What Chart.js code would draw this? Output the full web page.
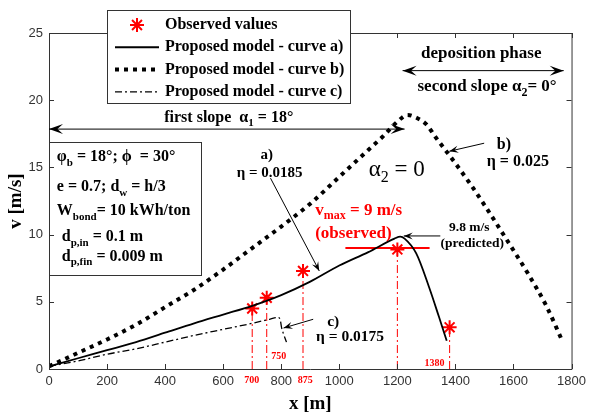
<!DOCTYPE html>
<html>
<head>
<meta charset="utf-8">
<script src="https://cdn.jsdelivr.net/npm/chart.js@4.4.1/dist/chart.umd.min.js"></script>
<style>
  html, body { margin: 0; padding: 0; background: #fff; }
  #wrap { width: 591px; height: 416px; }
</style>
</head>
<body>
<div id="wrap"><canvas id="myChart" width="591" height="416"></canvas></div>
<script>
// curve a) - proposed model, eta = 0.0185
var xA = [0, 100, 200, 300, 400, 500, 600, 700, 800, 900, 1000, 1100, 1190, 1210, 1225, 1265, 1309, 1343, 1370];
var yA = [0.2, 0.8, 1.4, 2.0, 2.7, 3.4, 4.05, 4.7, 5.5, 6.5, 7.7, 8.7, 9.7, 9.85, 9.7, 8.6, 6.1, 3.9, 2.1];
// curve b) - proposed model, eta = 0.025
var xB = [0, 100, 200, 300, 400, 500, 600, 700, 800, 900, 1000, 1100, 1150, 1200, 1235, 1265, 1300, 1330, 1400, 1450, 1500, 1586, 1650, 1713, 1770];
var yB = [0.2, 1.2, 2.2, 3.3, 4.6, 5.9, 7.4, 9.0, 10.6, 12.3, 14.3, 16.3, 17.3, 18.4, 18.9, 18.7, 18.2, 17.3, 15.3, 13.8, 12.2, 9.3, 7.1, 4.7, 2.0];
// curve c) - proposed model, eta = 0.0175
var xC = [0, 100, 200, 300, 400, 500, 600, 700, 760, 790, 797, 801, 808, 818];
var yC = [0.2, 0.6, 1.1, 1.5, 2.0, 2.5, 2.95, 3.4, 3.7, 3.85, 3.6, 3.1, 2.6, 2.0];
// observed values
var obsX = [700, 750, 875, 1200, 1380];
var obsY = [4.5, 5.3, 7.3, 8.9, 3.1];
// observed v max line
var vmaxX = [1021, 1311];
var vmaxY = [9.0, 9.0];
// axes
var xTicks = [0, 200, 400, 600, 800, 1000, 1200, 1400, 1600, 1800];
var yTicks = [0, 5, 10, 15, 20, 25];

var SERIF = '"Liberation Serif", "Times New Roman", serif';
var SANS = '"Liberation Sans", Arial, sans-serif';

function pts(xs, ys) {
    return xs.map(function(x, i) { return {x: x, y: ys[i]}; });
}

// rich text: parts = [[text, isSub], ...]
function rich(ctx, parts, x, y, align, size, color, weight) {
    weight = weight || 'bold';
    var w = 0;
    parts.forEach(function(p) {
        ctx.font = weight + ' ' + (p[1] ? Math.round(size * 0.7) : size) + 'px ' + SERIF;
        w += ctx.measureText(p[0]).width;
    });
    var cx = align === 'center' ? x - w / 2 : x;
    ctx.fillStyle = color;
    ctx.textAlign = 'left';
    ctx.textBaseline = 'middle';
    parts.forEach(function(p) {
        var s = p[1] ? Math.round(size * 0.7) : size;
        ctx.font = weight + ' ' + s + 'px ' + SERIF;
        ctx.fillText(p[0], cx, y + (p[1] ? size * 0.35 : 0));
        cx += ctx.measureText(p[0]).width;
    });
}

function head(ctx, x1, y1, x2, y2, len, half) {
    var a = Math.atan2(y2 - y1, x2 - x1);
    var c = Math.cos(a), s = Math.sin(a);
    ctx.beginPath();
    ctx.moveTo(x2, y2);
    ctx.lineTo(x2 - len * c + half * s, y2 - len * s - half * c);
    ctx.lineTo(x2 - len * 0.6 * c, y2 - len * 0.6 * s);
    ctx.lineTo(x2 - len * c - half * s, y2 - len * s + half * c);
    ctx.closePath();
    ctx.fill();
}

function arrow(ctx, x1, y1, x2, y2, both, len, half) {
    ctx.strokeStyle = '#000';
    ctx.fillStyle = '#000';
    ctx.lineWidth = 1;
    ctx.beginPath();
    ctx.moveTo(x1, y1);
    ctx.lineTo(x2, y2);
    ctx.stroke();
    head(ctx, x1, y1, x2, y2, len, half);
    if (both) head(ctx, x2, y2, x1, y1, len, half);
}

// annotations given in data units
var notes = [
    {x: 397, y: 18.7, align: 'left', size: 16, parts: [['first slope  \u03b1', 0], ['1', 1], [' = 18\u00b0', 0]]},
    {x: 1489, y: 23.5, align: 'center', size: 17, parts: [['deposition phase', 0]]},
    {x: 1509, y: 21.0, align: 'center', size: 17, parts: [['second slope \u03b1', 0], ['2', 1], ['= 0\u00b0', 0]]},
    {x: 27, y: 15.76, align: 'left', size: 16, parts: [['\u03c6', 0], ['b', 1], [' = 18\u00b0; \u03d5  = 30\u00b0', 0]]},
    {x: 27, y: 13.53, align: 'left', size: 16, parts: [['e = 0.7; d', 0], ['w', 1], [' = h/3', 0]]},
    {x: 27, y: 11.75, align: 'left', size: 16, parts: [['W', 0], ['bond', 1], ['= 10 kWh/ton', 0]]},
    {x: 44, y: 9.81, align: 'left', size: 16, parts: [['d', 0], ['p,in', 1], [' = 0.1 m', 0]]},
    {x: 44, y: 8.33, align: 'left', size: 16, parts: [['d', 0], ['p,fin', 1], [' = 0.009 m', 0]]},
    {x: 750, y: 15.9, align: 'center', size: 15, parts: [['a)', 0]]},
    {x: 760, y: 14.57, align: 'center', size: 15, parts: [['\u03b7 = 0.0185', 0]]},
    {x: 1198, y: 14.8, align: 'center', size: 23, weight: 'normal', parts: [['\u03b1', 0], ['2', 1], [' = 0', 0]]},
    {x: 1567, y: 16.65, align: 'center', size: 16, parts: [['b)', 0]]},
    {x: 1615, y: 15.4, align: 'center', size: 16, parts: [['\u03b7 = 0.025', 0]]},
    {x: 917, y: 11.8, align: 'left', size: 17, color: '#ff0000', parts: [['v', 0], ['max', 1], [' = 9 m/s', 0]]},
    {x: 917, y: 10.1, align: 'left', size: 17, color: '#ff0000', parts: [['(observed)', 0]]},
    {x: 1448, y: 10.5, align: 'center', size: 13.5, parts: [['9.8 m/s', 0]]},
    {x: 1458, y: 9.37, align: 'center', size: 13.5, parts: [['(predicted)', 0]]},
    {x: 979, y: 3.5, align: 'center', size: 15.5, parts: [['c)', 0]]},
    {x: 1037, y: 2.38, align: 'center', size: 15.5, parts: [['\u03b7 = 0.0175', 0]]},
    {x: 698, y: -0.82, align: 'center', size: 10, color: '#ff0000', parts: [['700', 0]]},
    {x: 883, y: -0.82, align: 'center', size: 10, color: '#ff0000', parts: [['875', 0]]},
    {x: 791, y: 0.9, align: 'center', size: 10, color: '#ff0000', parts: [['750', 0]]},
    {x: 1328, y: 0.45, align: 'center', size: 10, color: '#ff0000', parts: [['1380', 0]]}
];
var arrows = [
    {x1: 0, y1: 17.85, x2: 1225, y2: 17.85, both: true, len: 14, half: 5},
    {x1: 1218, y1: 22.2, x2: 1773, y2: 22.2, both: true, len: 14, half: 5},
    {x1: 763, y1: 14.2, x2: 931, y2: 7.3, len: 9, half: 3.5},
    {x1: 1499, y1: 16.8, x2: 1379, y2: 16.2, len: 9, half: 3.5},
    {x1: 1348, y1: 9.9, x2: 1222, y2: 9.9, len: 9, half: 3.5},
    {x1: 910, y1: 3.7, x2: 808, y2: 3.05, len: 9, half: 3.5}
];
var paramBox = {x1: 0, y1: 16.9, x2: 524, y2: 7.0};

var legendItems = [
    {label: 'Observed values', kind: 'star'},
    {label: 'Proposed model - curve a)', kind: 'solid'},
    {label: 'Proposed model - curve b)', kind: 'dot'},
    {label: 'Proposed model - curve c)', kind: 'dashdot'}
];

function starMark(ctx, x, y, r) {
    ctx.beginPath();
    for (var k = 0; k < 4; k++) {
        var a = k * Math.PI / 4;
        ctx.moveTo(x - r * Math.cos(a), y - r * Math.sin(a));
        ctx.lineTo(x + r * Math.cos(a), y + r * Math.sin(a));
    }
    ctx.stroke();
}

var decorPlugin = {
    id: 'decor',
    beforeDatasetsDraw: function(chart) {
        var ctx = chart.ctx, xs = chart.scales.x, ys = chart.scales.y;
        // parameter box
        var bx1 = xs.getPixelForValue(paramBox.x1), bx2 = xs.getPixelForValue(paramBox.x2);
        var by1 = ys.getPixelForValue(paramBox.y1), by2 = ys.getPixelForValue(paramBox.y2);
        ctx.save();
        ctx.strokeStyle = '#333';
        ctx.lineWidth = 1;
        ctx.strokeRect(Math.round(bx1) + 0.5, Math.round(by1) + 0.5, Math.round(bx2 - bx1), Math.round(by2 - by1));
        ctx.restore();
    },
    afterDatasetsDraw: function(chart) {
        var ctx = chart.ctx, xs = chart.scales.x, ys = chart.scales.y, ca = chart.chartArea;
        ctx.save();
        // frame + inward ticks
        ctx.strokeStyle = '#333';
        ctx.lineWidth = 1;
        ctx.beginPath();
        ctx.moveTo(ca.left + 0.5, ca.top + 0.5);
        ctx.lineTo(ca.right + 0.5, ca.top + 0.5);
        ctx.lineTo(ca.right + 0.5, ca.bottom + 0.5);
        xs.ticks.forEach(function(t) {
            var px = Math.round(xs.getPixelForValue(t.value)) + 0.5;
            ctx.moveTo(px, ca.bottom);
            ctx.lineTo(px, ca.bottom - 5);
            ctx.moveTo(px, ca.top);
            ctx.lineTo(px, ca.top + 5);
        });
        ys.ticks.forEach(function(t) {
            var py = Math.round(ys.getPixelForValue(t.value)) + 0.5;
            ctx.moveTo(ca.left, py);
            ctx.lineTo(ca.left + 5, py);
            ctx.moveTo(ca.right, py);
            ctx.lineTo(ca.right - 5, py);
        });
        ctx.stroke();

        arrows.forEach(function(a) {
            arrow(ctx, xs.getPixelForValue(a.x1), ys.getPixelForValue(a.y1),
                xs.getPixelForValue(a.x2), ys.getPixelForValue(a.y2), a.both, a.len, a.half);
        });
        notes.forEach(function(n) {
            rich(ctx, n.parts, xs.getPixelForValue(n.x), ys.getPixelForValue(n.y), n.align, n.size, n.color || '#000', n.weight);
        });

        // legend box (above plot, like the original)
        var lx = 107, ly = 10, lw = 243, lh = 93;
        ctx.fillStyle = '#fff';
        ctx.fillRect(lx, ly, lw, lh);
        ctx.strokeStyle = '#333';
        ctx.lineWidth = 1;
        ctx.strokeRect(lx + 0.5, ly + 0.5, lw, lh);
        legendItems.forEach(function(it, i) {
            var cy = 25 + i * 22.3;
            ctx.save();
            ctx.strokeStyle = '#000';
            if (it.kind === 'star') {
                ctx.strokeStyle = '#ff0000';
                ctx.lineWidth = 2;
                starMark(ctx, 137, cy, 7);
            } else {
                ctx.beginPath();
                if (it.kind === 'solid') { ctx.lineWidth = 2; }
                if (it.kind === 'dot') { ctx.lineWidth = 4; ctx.setLineDash([4, 5]); }
                if (it.kind === 'dashdot') { ctx.lineWidth = 1.3; ctx.setLineDash([7, 3, 2, 3]); }
                ctx.moveTo(115, cy);
                ctx.lineTo(159, cy);
                ctx.stroke();
            }
            ctx.restore();
            rich(ctx, [[it.label, 0]], 165, cy, 'left', 16, '#000');
        });
        ctx.restore();
    }
};

var datasets = [
    {data: pts(xB, yB), showLine: true, borderColor: '#000', borderWidth: 4, borderDash: [4, 5], pointRadius: 0, cubicInterpolationMode: 'monotone'},
    {data: pts(xA, yA), showLine: true, borderColor: '#000', borderWidth: 1.8, pointRadius: 0, cubicInterpolationMode: 'monotone'},
    {data: pts(xC, yC), showLine: true, borderColor: '#000', borderWidth: 1.3, borderDash: [7, 3, 2, 3], pointRadius: 0, cubicInterpolationMode: 'monotone'},
    {data: pts(vmaxX, vmaxY), showLine: true, borderColor: '#ff0000', borderWidth: 2, pointRadius: 0}
];
obsX.forEach(function(x, i) {
    datasets.push({data: [{x: x, y: 0}, {x: x, y: obsY[i]}], showLine: true, borderColor: '#ff0000',
        borderWidth: 1, borderDash: [8, 3, 2, 3], pointRadius: 0});
});
datasets.push({data: pts(obsX, obsY), showLine: false, pointStyle: 'star', pointRadius: 7,
    borderColor: '#ff0000', pointBorderWidth: 2, backgroundColor: '#ff0000'});

function plain(v) { return String(v); }

var ctx = document.getElementById('myChart');
var chartFig = new Chart(ctx, {
    type: 'scatter',
    data: {datasets: datasets},
    options: {
        responsive: false,
        animation: false,
        layout: {padding: {left: 0, top: 33, right: 16, bottom: 0}},
        plugins: {legend: {display: false}, tooltip: {enabled: false}},
        scales: {
            x: {
                type: 'linear', min: 0, max: 1800,
                afterFit: function(s) { s.height = 47; },
                afterBuildTicks: function(s) { s.ticks = xTicks.map(function(v) { return {value: v}; }); },
                ticks: {font: {family: SANS, size: 13}, color: '#333', padding: 5, maxRotation: 0, callback: plain},
                grid: {drawOnChartArea: false, drawTicks: false},
                border: {color: '#333', width: 1},
                title: {display: true, text: 'x [m]', color: '#000', font: {family: SERIF, size: 19, weight: 'bold'}, padding: {top: 0, bottom: 1}}
            },
            y: {
                type: 'linear', min: 0, max: 25,
                afterFit: function(s) { s.width = 49; },
                afterBuildTicks: function(s) { s.ticks = yTicks.map(function(v) { return {value: v}; }); },
                ticks: {font: {family: SANS, size: 13}, color: '#333', padding: 6, callback: plain},
                grid: {drawOnChartArea: false, drawTicks: false},
                border: {color: '#333', width: 1},
                title: {display: true, text: 'v [m/s]', color: '#000', font: {family: SERIF, size: 19, weight: 'bold'}, padding: {top: 5, bottom: 0}}
            }
        }
    },
    plugins: [decorPlugin]
});
</script>
</body>
</html>
